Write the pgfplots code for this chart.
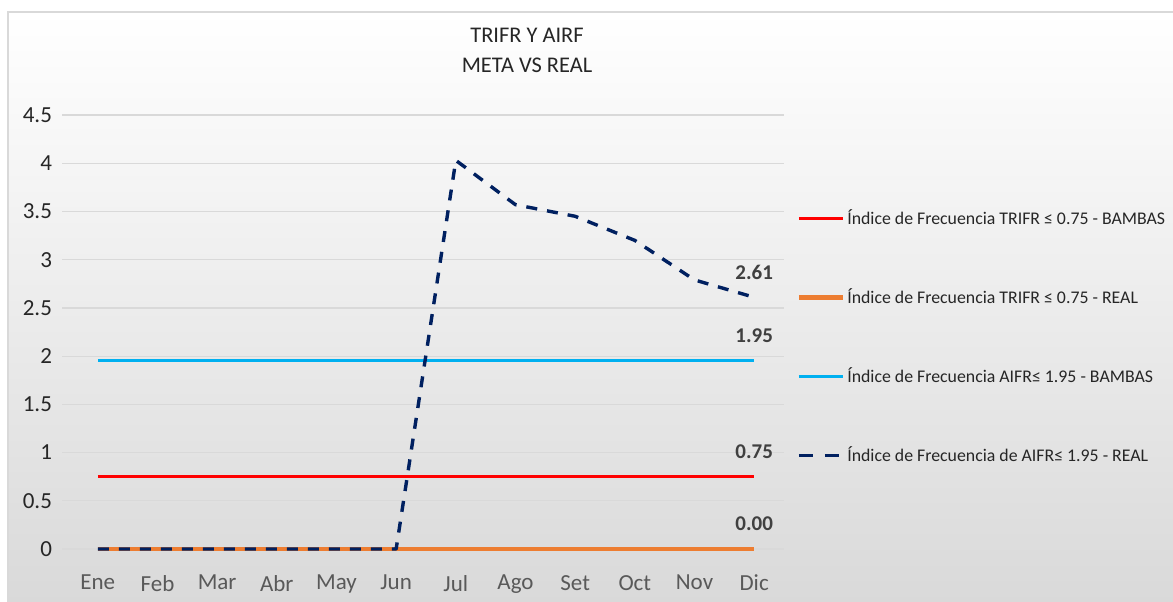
\documentclass[border=0pt]{standalone}
\usepackage{pgfplots}
\pgfplotsset{compat=1.18}
\usepackage{fontspec}
\setmainfont{Carlito}
\definecolor{cred}{HTML}{FF0000}
\definecolor{corange}{HTML}{ED7D31}
\definecolor{ccyan}{HTML}{00B0F0}
\definecolor{cnavy}{HTML}{002060}
\definecolor{cgrid}{HTML}{D9D9D9}
\definecolor{clab}{HTML}{404040}
\definecolor{ctick}{HTML}{595959}
\begin{document}
\begin{tikzpicture}
\useasboundingbox (0,0) rectangle (586.5pt,-300.5pt);
\fill[white] (0,0) rectangle (586.5pt,-300.5pt);
\shade[top color=white, bottom color=black!15] (4pt,-6pt) rectangle (590pt,-304pt);
\draw[cgrid, line width=0.6pt] (4pt,-304pt) -- (4pt,-6pt) -- (590pt,-6pt);
\node[font=\fontsize{11.2}{13}\selectfont, anchor=base, text=black!85, inner sep=0pt] at (263.5pt,-21pt) {TRIFR Y AIRF};
\node[font=\fontsize{11.2}{13}\selectfont, anchor=base, text=black!85, inner sep=0pt] at (263.5pt,-36pt) {META VS REAL};
\begin{axis}[
  at={(31pt,-274.5pt)}, anchor=south west,
  scale only axis, width=361pt, height=217pt,
  xmin=-0.6, xmax=11.5, ymin=0, ymax=4.5,
  xtick={0,...,11},
  xticklabels={Ene,Feb,Mar,Abr,May,Jun,Jul,Ago,Set,Oct,Nov,Dic},
  ytick={0,0.5,...,4.5},
  axis line style={draw=none},
  major tick length=0pt,
  ymajorgrids, grid style={cgrid, line width=0.6pt},
  tick label style={font=\fontsize{11.5}{13}\selectfont},
  xticklabel style={text=ctick, yshift=-9.5pt},
  yticklabel style={text=black!85, xshift=-1.5pt},
  /pgf/number format/assume math mode=true,
  clip=false,
  legend style={at={(1.017,0.488)}, anchor=west, draw=none, fill=none,
    font=\fontsize{8.9}{11}\selectfont, text=black!85, row sep=28.5pt,
    inner sep=0pt, nodes={inner sep=1pt}},
  legend cell align=left,
  legend image code/.code={\draw[#1] (0pt,0pt) -- (22pt,0pt);},
]
\addplot[cred, line width=1.5pt] coordinates {(0,0.75)(1,0.75)(2,0.75)(3,0.75)(4,0.75)(5,0.75)(6,0.75)(7,0.75)(8,0.75)(9,0.75)(10,0.75)(11,0.75)};
\addlegendentry{Índice de Frecuencia TRIFR ≤ 0.75 - BAMBAS}
\addplot[corange, line width=2.3pt] coordinates {(0,0)(1,0)(2,0)(3,0)(4,0)(5,0)(6,0)(7,0)(8,0)(9,0)(10,0)(11,0)};
\addlegendentry{Índice de Frecuencia TRIFR ≤ 0.75 - REAL}
\addplot[ccyan, line width=1.5pt] coordinates {(0,1.95)(1,1.95)(2,1.95)(3,1.95)(4,1.95)(5,1.95)(6,1.95)(7,1.95)(8,1.95)(9,1.95)(10,1.95)(11,1.95)};
\addlegendentry{Índice de Frecuencia AIFR≤ 1.95 - BAMBAS}
\addplot[cnavy, line width=1.7pt, dash pattern=on 5.5pt off 5pt, line join=round,
  legend image code/.code={\draw[cnavy, line width=1.7pt, dash pattern=on 7pt off 6pt] (0pt,0pt) -- (21pt,0pt);}]
  coordinates {(0,0)(1,0)(2,0)(3,0)(4,0)(5,0)(6,4.03)(7,3.57)(8,3.45)(9,3.2)(10,2.79)(11,2.61)};
\addlegendentry{Índice de Frecuencia de AIFR≤ 1.95 - REAL}
\node[font=\bfseries\fontsize{10.5}{12}\selectfont, text=clab, yshift=12.5pt] at (axis cs:11,2.61) {2.61};
\node[font=\bfseries\fontsize{10.5}{12}\selectfont, text=clab, yshift=12.5pt] at (axis cs:11,1.95) {1.95};
\node[font=\bfseries\fontsize{10.5}{12}\selectfont, text=clab, yshift=12.5pt] at (axis cs:11,0.75) {0.75};
\node[font=\bfseries\fontsize{10.5}{12}\selectfont, text=clab, yshift=12.5pt] at (axis cs:11,0) {0.00};
\end{axis}
\end{tikzpicture}
\end{document}
